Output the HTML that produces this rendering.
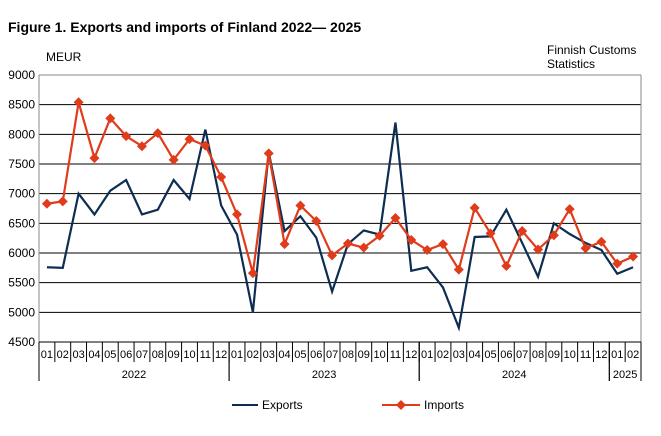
<!DOCTYPE html>
<html><head><meta charset="utf-8"><style>
body{margin:0;background:#fff;}
svg text{font-family:"Liberation Sans",Arial,sans-serif;}
</style></head><body>
<svg width="661" height="431" viewBox="0 0 661 431" id="c">
<text x="8" y="32" font-size="14" font-weight="bold">Figure 1. Exports and imports of Finland 2022— 2025</text>
<text x="46" y="61" font-size="12">MEUR</text>
<text x="547" y="54" font-size="12">Finnish Customs</text>
<text x="547" y="68" font-size="12">Statistics</text>
<g id="grid"></g><g id="xaxis"></g><g id="series"></g>
<g>
<line x1="232" y1="405" x2="258" y2="405" stroke="#0e2d52" stroke-width="2"/>
<text x="262" y="409" font-size="12">Exports</text>
<line x1="382" y1="405" x2="420" y2="405" stroke="#e03c1c" stroke-width="2"/>
<path d="M401 400 L406 405 L401 410 L396 405Z" fill="#e03c1c"/>
<text x="424" y="409" font-size="12">Imports</text>
</g>
</svg>
<script>
const months=["01","02","03","04","05","06","07","08","09","10","11","12","01","02","03","04","05","06","07","08","09","10","11","12","01","02","03","04","05","06","07","08","09","10","11","12","01","02"];
const years=["2022","2023","2024","2025"];
const yearCounts=[12,12,12,2];
const exportsVals=[5760,5750,7000,6650,7050,7230,6650,6730,7230,6910,8080,6800,6310,5000,7700,6370,6620,6260,5350,6150,6380,6310,8200,5700,5760,5420,4740,6270,6280,6730,6170,5600,6500,6320,6170,6050,5650,5760];
const importsVals=[6830,6870,8540,7600,8270,7970,7800,8020,7570,7920,7810,7280,6650,5660,7680,6150,6800,6540,5960,6160,6090,6290,6590,6220,6050,6150,5720,6760,6330,5780,6370,6060,6300,6740,6080,6190,5820,5940];
const yTicks=[4500,5000,5500,6000,6500,7000,7500,8000,8500,9000];
const NS="http://www.w3.org/2000/svg";
const L=39,R=641,T=75,B=342,ymin=4500,ymax=9000;
const cw=(R-L)/months.length;
const xs=i=>L+cw*(i+0.5);
const ys=v=>B-(v-ymin)/(ymax-ymin)*(B-T);
function mk(tag,attrs,parent){const e=document.createElementNS(NS,tag);for(const k in attrs)e.setAttribute(k,attrs[k]);parent.appendChild(e);return e;}
const g=document.getElementById('grid'),xa=document.getElementById('xaxis'),sg=document.getElementById('series');
yTicks.forEach(v=>{
 const y=ys(v);
 const ln=mk('line',{x1:L,x2:R,y1:y,y2:y,stroke:v===ymax?'#888':'#000','stroke-width':1},g);
 
 
 const t=mk('text',{x:L-4,y:y+4,'font-size':12,'text-anchor':'end'},g);
 t.textContent=v;
 
 
});
const fr=mk('path',{d:`M${L} ${T} V${B} M${R} ${T} V${B}`,stroke:'#888',fill:'none'},g);


const ax=mk('line',{x1:L,x2:R,y1:B,y2:B,stroke:'#000'},xa);


months.forEach((m,i)=>{
 const t=mk('text',{x:xs(i),y:358,'font-size':11,'text-anchor':'middle'},xa);
 t.textContent=m;
 
 
 const sx=L+cw*(i+1);
 const s=mk('line',{x1:sx,x2:sx,y1:B,y2:362,stroke:'#000'},xa);
 
 
});
let start=0;
years.forEach((yr,j)=>{
 const x0=L+cw*start,x1=L+cw*(start+yearCounts[j]);
 [x0,x1].forEach(x=>{const s=mk('line',{x1:x,x2:x,y1:B,y2:381,stroke:'#000'},xa);
  
  });
 const t=mk('text',{x:(x0+x1)/2,y:378,'font-size':11,'text-anchor':'middle'},xa);
 t.textContent=yr;
 
 
 start+=yearCounts[j];
});
const pe=mk('polyline',{points:exportsVals.map((v,i)=>xs(i)+','+ys(v)).join(' '),fill:'none',stroke:'#0e2d52','stroke-width':2.2},sg);


const pi=mk('polyline',{points:importsVals.map((v,i)=>xs(i)+','+ys(v)).join(' '),fill:'none',stroke:'#e03c1c','stroke-width':2.2},sg);


importsVals.forEach((v,i)=>{
 const x=xs(i),y=ys(v);
 const d=mk('path',{d:`M${x} ${y-5} L${x+5} ${y} L${x} ${y+5} L${x-5} ${y}Z`,fill:'#e03c1c'},sg);
 
 
});
</script>
</body></html>
